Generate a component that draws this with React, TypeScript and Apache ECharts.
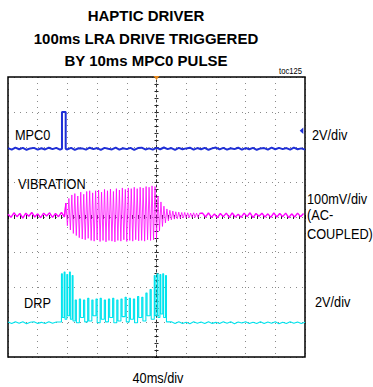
import { useEffect, useRef } from "react";
import * as echarts from "echarts";

// ---- Scope settings ----
const TIME_PER_DIV_MS = 40;
const TIME_DIVS = 10;
const VOLT_DIVS = 8;
const MPC0_V_PER_DIV = 2;
const VIB_MV_PER_DIV = 100;
const DRP_V_PER_DIV = 2;
const MPC0_OFFSET_DIV = 5.95;
const VIB_OFFSET_DIV = 4.05;
const DRP_OFFSET_DIV = 0.98;

// ---- Labels ----
const TITLE_LINES = ["HAPTIC DRIVER", "100ms LRA DRIVE TRIGGERED", "BY 10ms MPC0 PULSE"];
const TOC_LABEL = "toc125";
const CHANNEL_NAMES = ["MPC0", "VIBRATION", "DRP"];
const SCALE_LABELS = ["2V/div", "100mV/div", "(AC-", "COUPLED)", "2V/div"];
const TIME_LABEL = "40ms/div";

// ---- MPC0 (V) ----
const MPC0_PRE_START = 0;
const MPC0_PRE_STEP = 5;
const MPC0_PRE = [0.04, -0.05, 0.06, -0.03, 0.05, -0.06, 0.02, 0.05, -0.05, 0.03, -0.04, 0.06, -0.02, 0.05, -0.05];
const MPC0_PULSE: [number, number][] = [[72.7, 0], [72.7, 2.1], [77.7, 2.1], [77.7, 0]];
const MPC0_POST_START = 80;
const MPC0_POST_STEP = 5;
const MPC0_POST = [
  -0.04, 0.05, -0.06, 0.03, 0.02, -0.05, 0.06, -0.02, 0.04, -0.06,
  0.05, 0.0, -0.04, 0.06, -0.05, 0.03, -0.02, 0.05, -0.06, 0.04,
  0.06, -0.04, 0.02, -0.05, 0.05, -0.03, 0.07, -0.02, 0.04, -0.06,
  0.05, -0.03, 0.02, 0.06, -0.05, 0.04, -0.03, 0.05, -0.06, 0.02,
  0.07, -0.04, 0.05, -0.05, 0.03, -0.02, 0.06, -0.05, 0.04, -0.03,
  0.05, -0.06, 0.02, 0.04, -0.05, 0.06, -0.03, 0.05, -0.02, 0.04,
  -0.05, 0.06, -0.03, 0.02, -0.05,
];

// ---- VIBRATION (mV, AC-coupled) ----
const VIB_PRE_START = 0;
const VIB_PRE_STEP = 4;
const VIB_PRE = [3, -6, 7, -4, 5, -8, 6, -3, 8, -5, 4, -7, 6, -2, 7, -6, 5, -4, 8, -5];
const VIB_BURST_START = 78;
const VIB_BURST_STEP = 2;
const VIB_BURST = [
  35, -30, 48, -42, 58, -52, 62, -58, 55, -64,
  66, -68, 60, -70, 68, -66, 70, -72, 64, -74,
  70, -70, 72, -75, 66, -72, 74, -76, 70, -72,
  75, -74, 68, -76, 76, -72, 72, -74, 78, -70,
  74, -75, 78, -72, 76, -74, 80, -70, 76, -73,
  80, -72, 78, -74, 82, -70, 80, -72, 84, -70,
  82,
];
const VIB_DECAY_START = 200;
const VIB_DECAY_STEP = 2;
const VIB_DECAY = [
  -66, 55, -45, 38, -32, 26, -22, 18, -16, 14,
  -13, 12, -11, 10, -10, 9, -9, 8, -8, 8,
  -7, 7, -7, 6, -6, 7, -6, 6, -6, 5,
];
const VIB_POST_START = 262;
const VIB_POST_STEP = 4;
const VIB_POST = [
  6, -5, 7, -6, 4, -7, 5, -4, 6, -6,
  7, -5, 3, -6, 6, -4, 7, -7, 5, -3,
  6, -5, 4, -6, 7, -5, 5, -4, 6, -7,
  4, -5, 6, -4, 5,
];

// ---- DRP (V): quiet baseline, then three pulse trains ----
const DRP_PRE_START = 0;
const DRP_PRE_STEP = 5;
const DRP_PRE = [0.04, -0.05, 0.06, -0.03, 0.05, -0.06, 0.03, 0.05, -0.04, 0.02, -0.05, 0.06, -0.03, 0.04];
const DRP_TRAIN1 = { start: 72, period: 3.6, width: 1.2, tops: [2.8, 2.9, 2.75, 2.9, 2.7], lows: [0.3, 0.2, 0.4, 0.2, 0.1] };
const DRP_TRAIN2 = {
  start: 90.5, period: 5.6, width: 1.6,
  tops: [1.3, 1.35, 1.3, 1.4, 1.3, 1.35, 1.4, 1.3, 1.35, 1.4, 1.3, 1.35, 1.45, 1.4, 1.35, 1.5, 1.45, 1.7, 1.9],
  lows: [0.0, 0.3, 0.05, 0.1, 0.4, 0.0, 0.2, 0.05, 0.3, 0.0, 0.1, 0.35, 0.05, 0.2, 0.0, 0.3, 0.1, 0.4, 0.2],
};
const DRP_TRAIN3 = { start: 197, period: 3.8, width: 1.2, tops: [2.7, 2.8, 2.75, 2.8, 2.7], lows: [0.4, 0.3, 0.5, 0.3, 0.05] };
const DRP_POST_START = 220;
const DRP_POST_STEP = 5;
const DRP_POST = [
  0.05, -0.04, 0.06, -0.05, 0.03, -0.06, 0.05, -0.03, 0.04, -0.05,
  0.06, -0.04, 0.02, -0.05, 0.06, -0.03, 0.05, -0.06, 0.04, -0.02,
  0.05, -0.05, 0.03, -0.04, 0.06, -0.05, 0.04, -0.03, 0.05, -0.06,
  0.03, -0.04, 0.05, -0.03, 0.04, -0.05, 0.03,
];

type Train = { start: number; period: number; width: number; tops: number[]; lows: number[] };
type Pt = [number, number];

const sampled = (start: number, step: number, vals: number[]): Pt[] =>
  vals.map((v, i) => [start + i * step, v]);

const pulses = (tr: Train, prevLow: number): Pt[] => {
  const out: Pt[] = [];
  let low = prevLow;
  tr.tops.forEach((top, i) => {
    const t = tr.start + i * tr.period;
    out.push([t, low], [t, top], [t + tr.width, top], [t + tr.width, tr.lows[i]]);
    low = tr.lows[i];
  });
  return out;
};

const toDiv = (pts: Pt[], offset: number, perDiv: number) =>
  pts.map(([t, v]) => [t, offset + v / perDiv]);

const FONT = "'Liberation Sans', Arial, Helvetica, sans-serif";

export default function App() {
  const ref = useRef<HTMLDivElement>(null);

  useEffect(() => {
    if (!ref.current) return;
    const chart = echarts.init(ref.current, undefined, { renderer: "svg" });

    const mpc0 = toDiv(
      [...sampled(MPC0_PRE_START, MPC0_PRE_STEP, MPC0_PRE), ...MPC0_PULSE, ...sampled(MPC0_POST_START, MPC0_POST_STEP, MPC0_POST)],
      MPC0_OFFSET_DIV,
      MPC0_V_PER_DIV
    );
    const vibPre = sampled(VIB_PRE_START, VIB_PRE_STEP, VIB_PRE);
    const vibBurst = [
      ...sampled(VIB_BURST_START, VIB_BURST_STEP, VIB_BURST),
      ...sampled(VIB_DECAY_START, VIB_DECAY_STEP, VIB_DECAY),
    ];
    const vibPost = sampled(VIB_POST_START, VIB_POST_STEP, VIB_POST);
    const vibQuietA = toDiv([...vibPre, vibBurst[0]], VIB_OFFSET_DIV, VIB_MV_PER_DIV);
    const vibActive = toDiv([vibPre[vibPre.length - 1], ...vibBurst, vibPost[0]], VIB_OFFSET_DIV, VIB_MV_PER_DIV);
    const vibQuietB = toDiv([vibBurst[vibBurst.length - 1], ...vibPost], VIB_OFFSET_DIV, VIB_MV_PER_DIV);

    const drp = toDiv(
      [
        ...sampled(DRP_PRE_START, DRP_PRE_STEP, DRP_PRE),
        ...pulses(DRP_TRAIN1, DRP_PRE[DRP_PRE.length - 1]),
        ...pulses(DRP_TRAIN2, DRP_TRAIN1.lows[DRP_TRAIN1.lows.length - 1]),
        ...pulses(DRP_TRAIN3, DRP_TRAIN2.lows[DRP_TRAIN2.lows.length - 1]),
        ...sampled(DRP_POST_START, DRP_POST_STEP, DRP_POST),
      ],
      DRP_OFFSET_DIV,
      DRP_V_PER_DIV
    );

    const tMax = TIME_PER_DIV_MS * TIME_DIVS;
    const GL = 8, GT = 77, GW = 297, GH = 280;
    const cx = GL + GW / 2;

    const hidden = { show: false };
    const centerTick = { show: true, inside: true, length: 2, lineStyle: { color: "#222", width: 1 } };

    const text = (s: string, x: number, y: number, size: number, align: string, bold = false, sx = 1) => ({
      type: "text",
      x,
      y,
      scaleX: sx,
      silent: true,
      z: 100,
      style: {
        text: s,
        fill: "#000",
        font: `${bold ? "bold " : ""}${size}px ${FONT}`,
        textAlign: align,
        textVerticalAlign: "middle",
      },
    });

    const N = 0.85;
    const VIB_COLOR = "#ff00ff";
    const line = (name: string, data: number[][], color: string, width: number) => ({
      name, type: "line", data, symbol: "none", silent: true, z: 20,
      lineStyle: { color, width },
    });

    chart.setOption({
      animation: false,
      backgroundColor: "#fff",
      grid: {
        left: GL,
        top: GT,
        width: GW,
        height: GH,
        show: true,
        borderColor: "#000",
        borderWidth: 1.5,
        backgroundColor: "transparent",
        z: 10,
      },
      xAxis: [
        {
          type: "value", min: 0, max: tMax, interval: TIME_PER_DIV_MS, position: "top",
          axisLine: hidden, axisTick: hidden, axisLabel: hidden,
          splitLine: { show: true, lineStyle: { color: "#8a8a8a", width: 1, type: [1, 5] } },
        },
        {
          type: "value", min: 0, max: tMax, interval: TIME_PER_DIV_MS / 5, position: "bottom", offset: -GH / 2,
          axisLine: hidden, axisTick: centerTick, axisLabel: hidden, splitLine: hidden,
        },
        {
          type: "value", min: 0, max: tMax, interval: TIME_PER_DIV_MS / 5, position: "top", offset: -GH / 2,
          axisLine: hidden, axisTick: centerTick, axisLabel: hidden, splitLine: hidden,
        },
      ],
      yAxis: [
        {
          type: "value", min: 0, max: VOLT_DIVS, interval: 1, position: "left",
          axisLine: hidden, axisTick: hidden, axisLabel: hidden,
          splitLine: { show: true, lineStyle: { color: "#8a8a8a", width: 1, type: [1, 5] } },
        },
        {
          type: "value", min: 0, max: VOLT_DIVS, interval: 0.2, position: "left", offset: -GW / 2,
          axisLine: { show: true, lineStyle: { color: "#333", width: 1, type: [2, 3] } },
          axisTick: centerTick, axisLabel: hidden, splitLine: hidden,
        },
        {
          type: "value", min: 0, max: VOLT_DIVS, interval: 0.2, position: "right", offset: -GW / 2,
          axisLine: hidden, axisTick: centerTick, axisLabel: hidden, splitLine: hidden,
        },
      ],
      series: [
        line("MPC0", mpc0, "#1f2fd6", 2),
        line("VIBRATION", vibQuietA, VIB_COLOR, 1.4),
        line("VIBRATION", vibActive, VIB_COLOR, 0.8),
        line("VIBRATION", vibQuietB, VIB_COLOR, 1.4),
        line("DRP", drp, "#00e4ee", 1.1),
      ],
      graphic: [
        text(TITLE_LINES[0], 146, 15.5, 15, "center", true),
        text(TITLE_LINES[1], 146, 38, 15, "center", true),
        text(TITLE_LINES[2], 146, 60.5, 15, "center", true),
        text(TOC_LABEL, 302, 71, 9, "right", false, N),
        text(CHANNEL_NAMES[0], 15, 134.7, 15, "left", false, N),
        text(CHANNEL_NAMES[1], 18, 183.3, 15, "left", false, N),
        text(CHANNEL_NAMES[2], 24, 302.8, 15, "left", false, N),
        text(SCALE_LABELS[0], 312, 134.5, 15, "left", false, N),
        text(SCALE_LABELS[1], 307, 198.3, 15, "left", false, N),
        text(SCALE_LABELS[2], 307, 215, 15, "left", false, N),
        text(SCALE_LABELS[3], 307, 233.3, 15, "left", false, N),
        text(SCALE_LABELS[4], 315, 301.7, 15, "left", false, N),
        text(TIME_LABEL, 158, 377.5, 15, "center", false, N),
        {
          type: "polygon", silent: true, z: 100,
          shape: { points: [[cx - 3, GT - 1], [cx + 3, GT - 1], [cx, GT + 3]] },
          style: { fill: "#e8891c" },
        },
        {
          type: "polygon", silent: true, z: 100,
          shape: { points: [[303.3, 127.5], [303.3, 134], [299.7, 130.8]] },
          style: { fill: "#1f2fd6" },
        },
      ],
    });

    return () => chart.dispose();
  }, []);

  return (
    <div
      ref={ref}
      style={{ position: "fixed", left: 0, top: 0, width: 373, height: 387, background: "#fff" }}
    />
  );
}
